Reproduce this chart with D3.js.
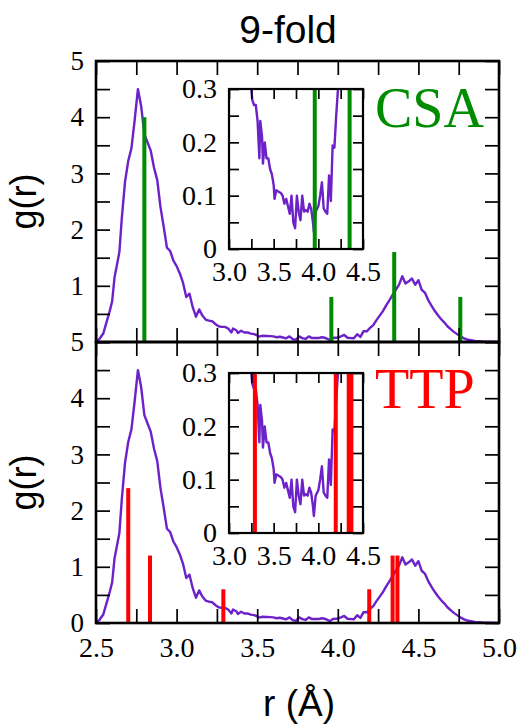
<!DOCTYPE html>
<html>
<head>
<meta charset="utf-8">
<script src="https://cdn.jsdelivr.net/npm/d3@7"></script>
<style>body{margin:0;background:#fff}</style>
</head>
<body>
<svg id="chart" width="519" height="724"></svg>
<script>
// g(r) curve
const rVals = [2.50, 2.52, 2.545, 2.565, 2.585, 2.60, 2.615, 2.625, 2.645, 2.66, 2.68, 2.70, 2.72, 2.74, 2.76, 2.78,
  2.80, 2.82, 2.84, 2.86, 2.88, 2.90, 2.92, 2.94, 2.96, 2.98, 3.00, 3.02, 3.04, 3.06, 3.08, 3.10, 3.12, 3.14,
  3.16, 3.18, 3.20, 3.22, 3.24, 3.26, 3.28, 3.30, 3.32, 3.34, 3.35, 3.37, 3.38, 3.40, 3.42, 3.44, 3.46, 3.48,
  3.50, 3.51, 3.53, 3.56, 3.58, 3.60, 3.62, 3.64, 3.66, 3.68, 3.70, 3.72, 3.74, 3.76, 3.78, 3.80, 3.82, 3.84,
  3.86, 3.88, 3.90, 3.92, 3.94, 3.95, 3.97, 4.00, 4.02, 4.04, 4.06, 4.08, 4.10, 4.12, 4.14, 4.16, 4.18, 4.20,
  4.22, 4.24, 4.26, 4.28, 4.30, 4.32, 4.34, 4.36, 4.38, 4.40, 4.42, 4.44, 4.46, 4.48, 4.50, 4.52, 4.54, 4.56,
  4.58, 4.60, 4.62, 4.64, 4.66, 4.68, 4.70, 4.72, 4.74, 4.76, 4.78, 4.80, 4.85, 4.90, 4.95, 5.00];
const gVals = [0.00, 0.05, 0.15, 0.35, 0.55, 0.72, 1.15, 1.30, 1.60, 2.20, 2.85, 3.22, 3.45, 3.95, 4.50, 4.20,
  3.70, 3.55, 3.40, 3.10, 2.88, 2.40, 2.05, 1.68, 1.62, 1.45, 1.35, 1.22, 1.05, 0.80, 0.86, 0.62, 0.45, 0.58,
  0.47, 0.40, 0.38, 0.37, 0.32, 0.28, 0.27, 0.27, 0.24, 0.17, 0.24, 0.21, 0.16, 0.20, 0.17, 0.17, 0.15, 0.14,
  0.12, 0.094, 0.11, 0.107, 0.105, 0.10, 0.085, 0.094, 0.08, 0.066, 0.10, 0.05, 0.039, 0.10, 0.07, 0.054, 0.10, 0.07,
  0.073, 0.07, 0.085, 0.075, 0.05, 0.032, 0.07, 0.08, 0.10, 0.125, 0.076, 0.07, 0.066, 0.138, 0.09, 0.194, 0.19, 0.25,
  0.30, 0.39, 0.47, 0.55, 0.65, 0.74, 0.84, 0.93, 1.02, 1.17, 1.04, 1.08, 1.13, 1.02, 1.10, 0.93, 0.88, 0.75,
  0.65, 0.56, 0.48, 0.41, 0.35, 0.28, 0.23, 0.18, 0.14, 0.10, 0.07, 0.045, 0.02, 0.01, 0.005, 0.00];

// reference peaks
const csaR = [2.80, 3.96, 4.35, 4.76];
const csaH = [4.0, 0.8, 1.6, 0.8];
const ttpR = [2.70, 2.835, 3.29, 4.195, 4.34, 4.37];
const ttpH = [2.4, 1.2, 0.6, 0.6, 1.2, 1.2];

// ticks
const xTicks = [2.5, 2.75, 3.0, 3.25, 3.5, 3.75, 4.0, 4.25, 4.5, 4.75, 5.0];
const xLabels = [2.5, 3.0, 3.5, 4.0, 4.5, 5.0];
const yTicks = [0, 0.5, 1, 1.5, 2, 2.5, 3, 3.5, 4, 4.5, 5];
const insetXTicks = [3.0, 3.25, 3.5, 3.75, 4.0, 4.25, 4.5];
const insetXLabels = [3.0, 3.5, 4.0, 4.5];
const insetYTicks = [0, 0.05, 0.1, 0.15, 0.2, 0.25, 0.3];
const insetYLabels = [0, 0.1, 0.2, 0.3];

const purple = "#6c22c8", green = "#008c00", red = "#ff0000";
const serif = "'Liberation Serif', 'Times New Roman', serif";
const sans = "'Liberation Sans', Arial, sans-serif";

const svg = d3.select("#chart");
const X0 = 96, X1 = 499, PH = 281;
const x = d3.scaleLinear().domain([2.5, 5.0]).range([X0, X1]);
const pts = d3.zip(rVals, gVals);

const has = (arr, v) => arr.some(a => Math.abs(a - v) < 1e-6);

function styleAxis(g, size, font) {
  g.select(".domain").remove();
  g.selectAll(".tick line").attr("stroke", "#000").attr("stroke-width", 1.7);
  g.selectAll("text").attr("font-family", font).attr("font-size", size).attr("fill", "#000");
}

const panels = [
  {top: 61, insetTop: 89, color: green, r: csaR, h: csaH, label: "CSA", yLab: [1, 2, 3, 4, 5], xLab: false},
  {top: 342, insetTop: 373, color: red, r: ttpR, h: ttpH, label: "TTP", yLab: [0, 1, 2, 3, 4, 5], xLab: true}
];

panels.forEach((p, i) => {
  const y = d3.scaleLinear().domain([0, 5]).range([p.top + PH, p.top]);
  const g = svg.append("g");

  g.append("path")
    .datum(pts)
    .attr("fill", "none")
    .attr("stroke", purple)
    .attr("stroke-width", 2.4)
    .attr("stroke-linejoin", "round")
    .attr("d", d3.line().x(d => x(d[0])).y(d => y(d[1])));

  g.selectAll(".bar")
    .data(d3.zip(p.r, p.h))
    .enter()
    .append("rect")
    .attr("fill", p.color)
    .attr("x", d => x(d[0]) - 2)
    .attr("width", 4)
    .attr("y", d => y(d[1]))
    .attr("height", d => y(0) - y(d[1]));

  // axes, ticks inward on all four sides
  const bottom = g.append("g").attr("transform", `translate(0,${y(0)})`)
    .call(d3.axisBottom(x).tickValues(xTicks).tickSizeInner(-14).tickSizeOuter(0).tickPadding(14)
      .tickFormat(d => (p.xLab && has(xLabels, d)) ? d3.format(".1f")(d) : ""));
  styleAxis(bottom, 28, serif);
  const top = g.append("g").attr("transform", `translate(0,${y(5)})`)
    .call(d3.axisTop(x).tickValues(xTicks).tickSizeInner(-14).tickSizeOuter(0).tickFormat(""));
  styleAxis(top, 28, serif);
  const left = g.append("g").attr("transform", `translate(${X0},0)`)
    .call(d3.axisLeft(y).tickValues(yTicks).tickSizeInner(-14).tickSizeOuter(0).tickPadding(12)
      .tickFormat(d => has(p.yLab, d) ? d3.format("d")(d) : ""));
  styleAxis(left, 27, serif);
  const right = g.append("g").attr("transform", `translate(${X1},0)`)
    .call(d3.axisRight(y).tickValues(yTicks).tickSizeInner(-14).tickSizeOuter(0).tickFormat(""));
  styleAxis(right, 27, serif);

  g.append("rect")
    .attr("x", X0).attr("y", p.top).attr("width", X1 - X0).attr("height", PH)
    .attr("fill", "none").attr("stroke", "#000").attr("stroke-width", 2.6);

  g.append("text")
    .attr("x", 375).attr("y", p.top + 66)
    .attr("font-family", serif).attr("font-size", 56)
    .attr("fill", p.color)
    .text(p.label);

  g.append("text")
    .attr("transform", `translate(36,${p.top + PH / 2}) rotate(-90)`)
    .attr("text-anchor", "middle")
    .attr("font-family", sans).attr("font-size", 36)
    .text("g(r)");

  // inset
  const ix = d3.scaleLinear().domain([3.0, 4.5]).range([229, 363]);
  const iy = d3.scaleLinear().domain([0, 0.3]).range([p.insetTop + 160, p.insetTop]);
  const ig = svg.append("g");
  const clipId = "clip" + i;
  ig.append("clipPath").attr("id", clipId)
    .append("rect").attr("x", 229).attr("y", p.insetTop).attr("width", 134).attr("height", 160);
  ig.append("rect").attr("x", 229).attr("y", p.insetTop).attr("width", 134).attr("height", 160).attr("fill", "#fff");

  const body = ig.append("g").attr("clip-path", `url(#${clipId})`);
  body.append("path")
    .datum(pts)
    .attr("fill", "none")
    .attr("stroke", purple)
    .attr("stroke-width", 2.4)
    .attr("stroke-linejoin", "round")
    .attr("d", d3.line().x(d => ix(d[0])).y(d => iy(d[1])));
  body.selectAll(".ibar")
    .data(d3.zip(p.r, p.h))
    .enter()
    .append("rect")
    .attr("fill", p.color)
    .attr("x", d => ix(d[0]) - 2)
    .attr("width", 4)
    .attr("y", d => iy(d[1]))
    .attr("height", d => iy(0) - iy(d[1]));

  const ib = ig.append("g").attr("transform", `translate(0,${iy(0)})`)
    .call(d3.axisBottom(ix).tickValues(insetXTicks).tickSizeInner(-10).tickSizeOuter(0).tickPadding(12)
      .tickFormat(d => has(insetXLabels, d) ? d3.format(".1f")(d) : ""));
  styleAxis(ib, 28, serif);
  const it = ig.append("g").attr("transform", `translate(0,${iy(0.3)})`)
    .call(d3.axisTop(ix).tickValues(insetXTicks).tickSizeInner(-10).tickSizeOuter(0).tickFormat(""));
  styleAxis(it, 28, serif);
  const il = ig.append("g").attr("transform", `translate(229,0)`)
    .call(d3.axisLeft(iy).tickValues(insetYTicks).tickSizeInner(-10).tickSizeOuter(0).tickPadding(12)
      .tickFormat(d => has(insetYLabels, d) ? (d === 0 ? "0" : d3.format(".1f")(d)) : ""));
  styleAxis(il, 28, serif);
  const ir = ig.append("g").attr("transform", `translate(363,0)`)
    .call(d3.axisRight(iy).tickValues(insetYTicks).tickSizeInner(-10).tickSizeOuter(0).tickFormat(""));
  styleAxis(ir, 28, serif);

  ig.append("rect")
    .attr("x", 229).attr("y", p.insetTop).attr("width", 134).attr("height", 160)
    .attr("fill", "none").attr("stroke", "#000").attr("stroke-width", 2.2);
});

// titles
svg.append("text")
  .attr("x", 288).attr("y", 43)
  .attr("text-anchor", "middle")
  .attr("font-family", sans).attr("font-size", 39)
  .text("9-fold");

svg.append("text")
  .attr("x", 299).attr("y", 716)
  .attr("text-anchor", "middle")
  .attr("font-family", sans).attr("font-size", 37)
  .text("r (Å)");
</script>
</body>
</html>
